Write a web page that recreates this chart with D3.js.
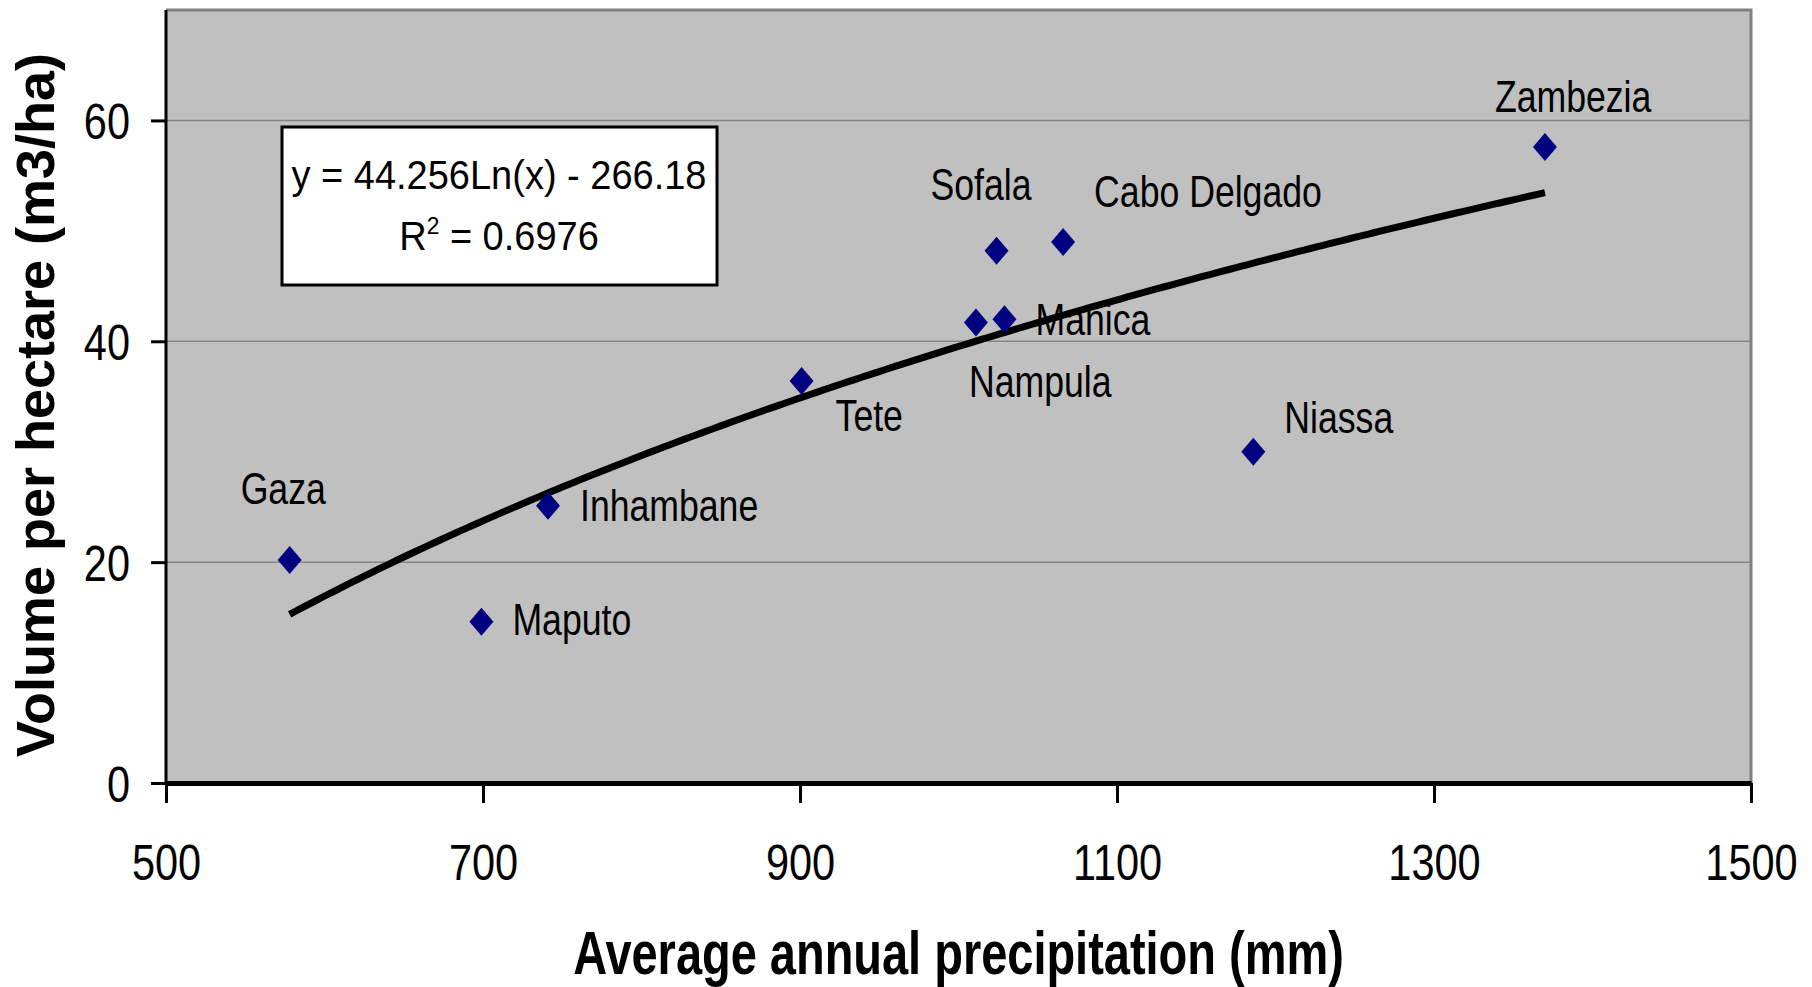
<!DOCTYPE html>
<html>
<head>
<meta charset="utf-8">
<script src="https://cdn.jsdelivr.net/npm/d3@7"></script>
<style>
    body { margin: 0; background: #fff; }
    text { font-family: "Liberation Sans", Arial, sans-serif; fill: #000; }
</style>
</head>
<body>
<script>
(function() {

//data
    var provinces = ['Gaza', 'Maputo', 'Inhambane', 'Tete', 'Nampula', 'Manica', 'Sofala', 'Cabo Delgado', 'Niassa', 'Zambezia'];
    var precipitation = [578, 699, 741, 901, 1011, 1029, 1024, 1066, 1186, 1370];
    var volume = [20.2, 14.6, 25.1, 36.4, 41.7, 42.0, 48.2, 49.0, 30.0, 57.6];
    var xTicks = [500, 700, 900, 1100, 1300, 1500];
    var yTicks = [0, 20, 40, 60];
    var trendA = 44.256, trendB = -266.18, rSquared = '0.6976';

//label placement, pixel offsets from each marker (start of text, baseline)
    var labelOffsets = [[-49, -56], [31, 13], [32, 15], [34, 50], [-7, 74], [31, 16], [-66, -51], [31, -35], [31, -19], [-50, -35]];

//frame
    var width = 1812, height = 987;
    var plotLeft = 166, plotRight = 1751, plotTop = 10, plotBottom = 783;

    var svg = d3.select('body').append('svg')
        .attr('width', width)
        .attr('height', height);

    var x = d3.scaleLinear().domain([500, 1500]).range([plotLeft, plotRight]);
    var y = d3.scaleLinear().domain([0, 70]).range([plotBottom, plotTop]);

    //condensed text helper: text drawn at (px,py) squeezed horizontally
    function label(g, px, py, str, size, sx, anchor, weight) {
        return g.append('text')
            .attr('transform', 'translate(' + px + ',' + py + ') scale(' + sx + ',1)')
            .attr('text-anchor', anchor || 'start')
            .style('font-size', size + 'px')
            .style('font-weight', weight || 'normal')
            .text(str);
    }

    //plot background
    svg.append('rect')
        .attr('x', plotLeft)
        .attr('y', plotTop)
        .attr('width', plotRight - plotLeft)
        .attr('height', plotBottom - plotTop)
        .attr('fill', '#c0c0c0');

    //gridlines
    svg.append('g').selectAll('line')
        .data(yTicks.filter(function(d) { return d > 0; }))
        .enter().append('line')
        .attr('x1', plotLeft).attr('x2', plotRight)
        .attr('y1', function(d) { return y(d); })
        .attr('y2', function(d) { return y(d); })
        .attr('stroke', '#858585')
        .attr('stroke-width', 1.5);

    //top and right border
    svg.append('path')
        .attr('d', 'M' + plotLeft + ',' + plotTop + 'H' + plotRight + 'V' + plotBottom)
        .attr('fill', 'none')
        .attr('stroke', '#808080')
        .attr('stroke-width', 3);

    //trendline y = a ln(x) + b over the range of the data
    var xMin = d3.min(precipitation), xMax = d3.max(precipitation);
    var trend = d3.range(xMin, xMax, 4).concat([xMax]).map(function(v) {
        return [v, trendA * Math.log(v) + trendB];
    });
    svg.append('path')
        .datum(trend)
        .attr('d', d3.line()
            .x(function(d) { return x(d[0]); })
            .y(function(d) { return y(d[1]); }))
        .attr('fill', 'none')
        .attr('stroke', '#000')
        .attr('stroke-width', 7);

    //axes
    var yAxis = svg.append('g')
        .attr('transform', 'translate(' + plotLeft + ',0)')
        .call(d3.axisLeft(y).tickValues(yTicks).tickSize(15).tickSizeOuter(0));
    yAxis.select('.domain').attr('stroke-width', 3).attr('d', 'M0,' + plotTop + 'V' + plotBottom);
    yAxis.selectAll('.tick line').attr('stroke-width', 3);
    yAxis.selectAll('.tick text')
        .attr('x', null).attr('dy', null)
        .attr('transform', 'translate(-36,18) scale(0.83,1)')
        .attr('font-family', null).attr('font-size', null)
        .style('font-size', '50px');

    var xAxis = svg.append('g')
        .attr('transform', 'translate(0,' + plotBottom + ')')
        .call(d3.axisBottom(x).tickValues(xTicks).tickFormat(d3.format('d')).tickSize(20).tickSizeOuter(0));
    xAxis.select('.domain').attr('stroke-width', 5);
    xAxis.selectAll('.tick line').attr('stroke-width', 3);
    xAxis.selectAll('.tick text')
        .attr('y', null).attr('dy', null)
        .attr('transform', 'translate(0,97) scale(0.83,1)')
        .attr('font-family', null).attr('font-size', null)
        .style('font-size', '50px');

    //markers
    function diamond(hw, hh) {
        return 'M0,' + (-hh) + 'L' + hw + ',0L0,' + hh + 'L' + (-hw) + ',0Z';
    }
    var points = svg.append('g').selectAll('path')
        .data(provinces)
        .enter().append('path')
        .attr('transform', function(d, i) { return 'translate(' + x(precipitation[i]) + ',' + y(volume[i]) + ')'; })
        .attr('d', diamond(12, 14))
        .attr('fill', '#000080');

    //province labels
    var labels = svg.append('g');
    provinces.forEach(function(name, i) {
        label(labels, x(precipitation[i]) + labelOffsets[i][0], y(volume[i]) + labelOffsets[i][1], name, 44, 0.81);
    });

    //equation box
    var box = svg.append('g');
    box.append('rect')
        .attr('x', 282).attr('y', 127)
        .attr('width', 435).attr('height', 158)
        .attr('fill', '#fff')
        .attr('stroke', '#000')
        .attr('stroke-width', 3);
    label(box, 499, 189, 'y = ' + trendA + 'Ln(x) - ' + Math.abs(trendB), 40, 0.95, 'middle');
    var r2 = label(box, 499, 250, 'R', 40, 0.95, 'middle');
    r2.append('tspan').attr('dy', -16).style('font-size', '24px').text('2');
    r2.append('tspan').attr('dy', 16).text(' = ' + rSquared);

    //axis titles
    label(svg, (plotLeft + plotRight) / 2, 974, 'Average annual precipitation (mm)', 61, 0.77, 'middle', 'bold');
    svg.append('text')
        .attr('transform', 'translate(54,' + 405 + ') rotate(-90)')
        .attr('text-anchor', 'middle')
        .style('font-size', '54px')
        .style('font-weight', 'bold')
        .text('Volume per hectare (m3/ha)');

})();
</script>
</body>
</html>
